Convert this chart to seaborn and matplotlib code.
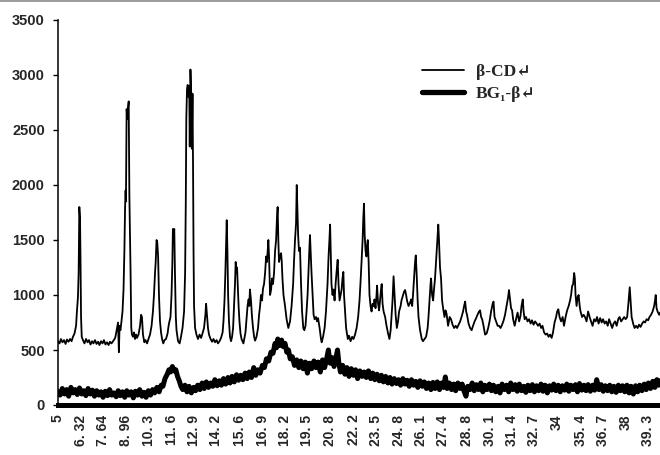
import matplotlib
matplotlib.use("Agg")
import matplotlib.pyplot as plt
import seaborn as sns
import pandas as pd
from matplotlib.lines import Line2D

# 2-theta (deg) / counts pairs
cd_scan = [
    (5.00, 580), (5.09, 560), (5.17, 600), (5.26, 570), (5.35, 590), (5.44, 555), (5.52, 595), (5.61, 575),
    (5.70, 600), (5.79, 580), (5.87, 620), (5.96, 650), (6.05, 720), (6.10, 850), (6.16, 980), (6.20, 1200),
    (6.24, 1800), (6.28, 1700), (6.31, 1300), (6.34, 800), (6.38, 620), (6.45, 590), (6.54, 560), (6.63, 600),
    (6.72, 570), (6.80, 590), (6.89, 550), (6.98, 580), (7.06, 560), (7.15, 590), (7.24, 555), (7.33, 575),
    (7.41, 545), (7.50, 580), (7.59, 560), (7.67, 590), (7.76, 550), (7.85, 570), (7.94, 545), (8.02, 575),
    (8.11, 560), (8.20, 580), (8.29, 600), (8.34, 620), (8.43, 700), (8.49, 750), (8.54, 480), (8.58, 720),
    (8.63, 680), (8.69, 760), (8.75, 850), (8.81, 1050), (8.86, 1400), (8.90, 1800), (8.93, 1950), (8.95, 1850),
    (8.99, 2690), (9.03, 2600), (9.07, 2700), (9.11, 2760), (9.15, 1900), (9.18, 1600), (9.22, 1200), (9.26, 700),
    (9.30, 640), (9.36, 620), (9.42, 660), (9.48, 600), (9.54, 640), (9.59, 610), (9.68, 640), (9.77, 720),
    (9.83, 820), (9.88, 800), (9.94, 640), (10.02, 570), (10.09, 590), (10.18, 560), (10.26, 600), (10.35, 640),
    (10.44, 720), (10.52, 850), (10.58, 1000), (10.64, 1200), (10.68, 1300), (10.73, 1500), (10.77, 1480),
    (10.82, 1350), (10.87, 1000), (10.93, 760), (10.99, 660), (11.05, 600), (11.12, 560), (11.19, 590),
    (11.28, 600), (11.37, 650), (11.43, 720), (11.48, 760), (11.54, 800), (11.60, 1000), (11.65, 1300),
    (11.68, 1600), (11.72, 1550), (11.76, 1600), (11.80, 1200), (11.85, 800), (11.89, 680), (11.98, 580),
    (12.07, 560), (12.15, 620), (12.24, 700), (12.33, 850), (12.39, 1200), (12.43, 1850), (12.46, 2600),
    (12.50, 2870), (12.54, 2910), (12.59, 2800), (12.63, 2900), (12.66, 2350), (12.70, 3050), (12.75, 2800),
    (12.78, 2330), (12.82, 2830), (12.85, 2200), (12.88, 1400), (12.91, 900), (12.97, 700), (13.05, 640),
    (13.14, 600), (13.23, 640), (13.32, 610), (13.40, 650), (13.49, 700), (13.57, 820), (13.61, 920),
    (13.66, 820), (13.72, 700), (13.78, 640), (13.87, 600), (13.96, 575), (14.04, 600), (14.13, 570),
    (14.22, 590), (14.30, 560), (14.39, 580), (14.48, 610), (14.57, 660), (14.62, 760), (14.68, 950),
    (14.73, 1200), (14.78, 1500), (14.81, 1680), (14.85, 1400), (14.89, 1000), (14.94, 760), (15.00, 620),
    (15.06, 580), (15.12, 620), (15.18, 700), (15.23, 880), (15.29, 1100), (15.33, 1300), (15.37, 1200),
    (15.41, 1250), (15.45, 1100), (15.50, 900), (15.55, 760), (15.61, 650), (15.67, 600), (15.78, 560),
    (15.85, 620), (15.90, 660), (15.96, 780), (16.02, 900), (16.08, 960), (16.12, 900), (16.16, 1050),
    (16.22, 950), (16.28, 800), (16.34, 700), (16.40, 620), (16.46, 585), (16.54, 620), (16.63, 700),
    (16.69, 820), (16.75, 900), (16.80, 1000), (16.86, 950), (16.92, 1060), (16.98, 1100), (17.04, 1200),
    (17.10, 1350), (17.15, 1300), (17.23, 1500), (17.27, 1350), (17.33, 1000), (17.39, 1050), (17.44, 1150),
    (17.50, 1100), (17.56, 1200), (17.62, 1400), (17.68, 1500), (17.73, 1700), (17.77, 1800), (17.81, 1500),
    (17.85, 1300), (17.91, 1350), (17.97, 1380), (18.01, 1300), (18.05, 1150), (18.11, 1000), (18.20, 900),
    (18.29, 780), (18.39, 700), (18.49, 760), (18.58, 900), (18.67, 1100), (18.72, 1300), (18.78, 1500),
    (18.84, 1650), (18.88, 2000), (18.93, 1700), (18.96, 1550), (19.01, 1400), (19.07, 1430), (19.13, 1100),
    (19.19, 850), (19.26, 700), (19.32, 680), (19.39, 720), (19.45, 850), (19.51, 1000), (19.57, 1250),
    (19.61, 1400), (19.65, 1545), (19.70, 1350), (19.74, 1200), (19.80, 1000), (19.86, 820), (19.92, 780),
    (20.00, 800), (20.06, 760), (20.12, 790), (20.21, 700), (20.29, 600), (20.33, 570), (20.41, 620),
    (20.50, 700), (20.58, 850), (20.67, 1100), (20.73, 1350), (20.78, 1500), (20.82, 1640), (20.86, 1350),
    (20.90, 1100), (20.96, 1000), (21.02, 1050), (21.08, 950), (21.14, 1100), (21.19, 1200), (21.26, 1320),
    (21.31, 1100), (21.37, 950), (21.43, 1000), (21.49, 1050), (21.54, 1150), (21.59, 1210), (21.63, 1000),
    (21.69, 850), (21.75, 700), (21.85, 600), (21.92, 630), (22.01, 580), (22.10, 620), (22.18, 600),
    (22.27, 640), (22.36, 700), (22.45, 800), (22.53, 950), (22.60, 1150), (22.66, 1350), (22.71, 1500),
    (22.75, 1700), (22.79, 1830), (22.83, 1550), (22.88, 1400), (22.93, 1350), (22.97, 1450), (23.01, 1500),
    (23.06, 1300), (23.11, 1000), (23.17, 900), (23.23, 850), (23.29, 920), (23.35, 900), (23.40, 960),
    (23.46, 880), (23.52, 1000), (23.55, 1085), (23.61, 920), (23.67, 860), (23.72, 950), (23.78, 1050),
    (23.82, 1100), (23.87, 920), (23.93, 850), (24.02, 800), (24.10, 720), (24.19, 650), (24.27, 600),
    (24.34, 680), (24.39, 800), (24.45, 950), (24.51, 1170), (24.57, 1000), (24.63, 820), (24.70, 700),
    (24.77, 760), (24.83, 850), (24.92, 900), (24.97, 950), (25.06, 1000), (25.12, 1030), (25.18, 1045),
    (25.24, 1000), (25.29, 950), (25.38, 900), (25.47, 930), (25.53, 960), (25.59, 900), (25.64, 1000),
    (25.70, 1150), (25.76, 1300), (25.80, 1360), (25.85, 1200), (25.91, 950), (25.96, 800), (26.05, 680),
    (26.15, 600), (26.22, 580), (26.31, 600), (26.40, 620), (26.49, 700), (26.54, 800), (26.60, 950),
    (26.66, 1100), (26.69, 1150), (26.75, 1000), (26.81, 950), (26.86, 1050), (26.92, 1150), (26.98, 1300),
    (27.04, 1450), (27.08, 1560), (27.11, 1640), (27.15, 1500), (27.21, 1250), (27.27, 1150), (27.33, 950),
    (27.39, 880), (27.47, 800), (27.53, 860), (27.59, 830), (27.68, 720), (27.77, 800), (27.85, 780),
    (27.94, 730), (28.03, 700), (28.12, 720), (28.20, 700), (28.29, 730), (28.38, 760), (28.46, 800),
    (28.55, 850), (28.61, 900), (28.67, 940), (28.73, 850), (28.78, 820), (28.87, 740), (28.96, 700),
    (29.05, 680), (29.13, 720), (29.22, 760), (29.31, 790), (29.39, 820), (29.48, 850), (29.54, 860),
    (29.60, 800), (29.66, 780), (29.74, 720), (29.83, 640), (29.92, 650), (30.01, 700), (30.09, 760),
    (30.18, 850), (30.27, 920), (30.32, 940), (30.38, 800), (30.47, 760), (30.56, 720), (30.64, 720),
    (30.73, 700), (30.82, 730), (30.91, 770), (30.99, 820), (31.08, 900), (31.17, 980), (31.22, 1045),
    (31.28, 960), (31.34, 880), (31.40, 860), (31.46, 780), (31.55, 720), (31.63, 780), (31.72, 840),
    (31.81, 760), (31.89, 810), (31.95, 900), (32.02, 960), (32.07, 850), (32.13, 780), (32.21, 800),
    (32.30, 760), (32.39, 780), (32.48, 740), (32.56, 770), (32.65, 730), (32.74, 760), (32.83, 740),
    (32.91, 720), (33.00, 740), (33.09, 700), (33.17, 720), (33.26, 660), (33.35, 640), (33.44, 650),
    (33.52, 620), (33.61, 640), (33.70, 610), (33.78, 660), (33.87, 750), (33.96, 800), (34.02, 850),
    (34.09, 870), (34.16, 800), (34.25, 760), (34.34, 800), (34.42, 720), (34.51, 800), (34.60, 860),
    (34.69, 900), (34.77, 950), (34.83, 1000), (34.89, 1080), (34.95, 1100), (35.01, 1200), (35.05, 1150),
    (35.09, 1000), (35.15, 900), (35.21, 980), (35.27, 1000), (35.33, 900), (35.38, 850), (35.47, 800),
    (35.56, 820), (35.64, 800), (35.73, 760), (35.82, 850), (35.91, 800), (35.99, 760), (36.08, 720),
    (36.17, 780), (36.26, 760), (36.34, 800), (36.43, 740), (36.52, 790), (36.61, 750), (36.69, 780),
    (36.78, 740), (36.87, 760), (36.96, 720), (37.04, 780), (37.13, 740), (37.22, 700), (37.30, 740),
    (37.39, 760), (37.48, 720), (37.57, 780), (37.65, 800), (37.74, 760), (37.83, 780), (37.92, 800),
    (38.00, 780), (38.09, 800), (38.15, 900), (38.20, 1000), (38.24, 1070), (38.29, 950), (38.35, 800),
    (38.44, 740), (38.52, 700), (38.61, 720), (38.70, 700), (38.78, 730), (38.87, 710), (38.96, 740),
    (39.05, 760), (39.13, 750), (39.22, 780), (39.31, 770), (39.39, 800), (39.48, 820), (39.57, 850),
    (39.66, 900), (39.72, 960), (39.75, 1000), (39.80, 880), (39.86, 850), (39.95, 820), (40.00, 840),
]

bg_scan = [
    (5.00, 120), (5.12, 90), (5.25, 150), (5.38, 100), (5.50, 140), (5.62, 80), (5.75, 160), (5.88, 110),
    (6.00, 140), (6.12, 95), (6.25, 155), (6.38, 100), (6.50, 130), (6.62, 85), (6.75, 150), (6.88, 100),
    (7.00, 135), (7.12, 80), (7.25, 130), (7.38, 90), (7.50, 120), (7.62, 70), (7.75, 125), (7.88, 85),
    (8.00, 140), (8.12, 90), (8.25, 110), (8.38, 75), (8.50, 130), (8.62, 85), (8.75, 120), (8.88, 70),
    (9.00, 130), (9.12, 90), (9.25, 120), (9.38, 65), (9.50, 125), (9.62, 90), (9.75, 140), (9.88, 80),
    (10.00, 115), (10.12, 70), (10.25, 130), (10.38, 90), (10.50, 140), (10.62, 110), (10.75, 160),
    (10.88, 120), (11.00, 180), (11.10, 170), (11.22, 240), (11.35, 280), (11.45, 320), (11.55, 300),
    (11.65, 350), (11.75, 310), (11.85, 320), (11.95, 260), (12.05, 220), (12.15, 170), (12.25, 140),
    (12.38, 180), (12.50, 120), (12.62, 170), (12.75, 110), (12.88, 160), (13.00, 130), (13.12, 180),
    (13.25, 140), (13.38, 200), (13.50, 150), (13.62, 210), (13.75, 160), (13.88, 200), (14.00, 170),
    (14.12, 230), (14.25, 175), (14.38, 220), (14.50, 180), (14.62, 240), (14.75, 190), (14.88, 250),
    (15.00, 200), (15.12, 260), (15.25, 210), (15.38, 275), (15.50, 225), (15.62, 270), (15.75, 230),
    (15.88, 290), (16.00, 240), (16.12, 300), (16.25, 250), (16.38, 340), (16.50, 270), (16.62, 320),
    (16.75, 290), (16.88, 360), (17.00, 340), (17.12, 420), (17.25, 400), (17.38, 480), (17.50, 470),
    (17.62, 560), (17.70, 520), (17.78, 600), (17.88, 540), (18.00, 590), (18.10, 530), (18.20, 560),
    (18.30, 480), (18.40, 500), (18.50, 420), (18.62, 440), (18.75, 360), (18.88, 410), (19.00, 340),
    (19.12, 400), (19.25, 330), (19.38, 390), (19.50, 290), (19.62, 380), (19.75, 330), (19.88, 400),
    (20.00, 340), (20.12, 390), (20.25, 300), (20.38, 410), (20.50, 340), (20.62, 420), (20.72, 500),
    (20.82, 380), (20.95, 430), (21.05, 350), (21.15, 420), (21.25, 500), (21.33, 380), (21.42, 300),
    (21.55, 360), (21.68, 280), (21.80, 340), (21.92, 260), (22.05, 330), (22.18, 270), (22.30, 320),
    (22.42, 240), (22.55, 310), (22.68, 260), (22.80, 300), (22.92, 250), (23.05, 310), (23.18, 240),
    (23.30, 290), (23.42, 230), (23.55, 280), (23.68, 220), (23.80, 270), (23.92, 210), (24.05, 260),
    (24.18, 200), (24.30, 250), (24.42, 190), (24.55, 240), (24.68, 195), (24.80, 230), (24.92, 180),
    (25.05, 240), (25.18, 190), (25.30, 225), (25.42, 170), (25.55, 230), (25.68, 180), (25.80, 215),
    (25.92, 160), (26.05, 220), (26.18, 170), (26.30, 210), (26.42, 150), (26.55, 200), (26.68, 140),
    (26.80, 205), (26.92, 150), (27.05, 210), (27.18, 140), (27.30, 200), (27.42, 160), (27.52, 255),
    (27.62, 150), (27.75, 200), (27.88, 140), (28.00, 190), (28.12, 130), (28.25, 200), (28.38, 150),
    (28.50, 190), (28.62, 120), (28.72, 80), (28.82, 170), (28.95, 140), (29.08, 200), (29.20, 130),
    (29.32, 185), (29.45, 140), (29.58, 200), (29.70, 120), (29.82, 180), (29.95, 140), (30.08, 190),
    (30.20, 130), (30.32, 180), (30.45, 120), (30.58, 170), (30.70, 110), (30.82, 190), (30.95, 140),
    (31.08, 180), (31.20, 120), (31.32, 200), (31.45, 140), (31.58, 185), (31.70, 125), (31.82, 190),
    (31.95, 130), (32.08, 170), (32.20, 115), (32.32, 180), (32.45, 130), (32.58, 185), (32.70, 120),
    (32.82, 175), (32.95, 130), (33.08, 190), (33.20, 125), (33.32, 180), (33.45, 110), (33.58, 175),
    (33.70, 135), (33.82, 190), (33.95, 130), (34.08, 180), (34.20, 120), (34.32, 175), (34.45, 135),
    (34.58, 190), (34.70, 125), (34.82, 180), (34.95, 140), (35.08, 185), (35.20, 120), (35.32, 195),
    (35.45, 135), (35.58, 180), (35.70, 130), (35.82, 185), (35.95, 125), (36.08, 180), (36.20, 135),
    (36.32, 230), (36.45, 140), (36.58, 185), (36.70, 125), (36.82, 175), (36.95, 130), (37.08, 180),
    (37.20, 120), (37.32, 170), (37.45, 115), (37.58, 180), (37.70, 130), (37.82, 175), (37.95, 120),
    (38.08, 180), (38.20, 110), (38.32, 170), (38.45, 100), (38.58, 175), (38.70, 120), (38.82, 180),
    (38.95, 130), (39.08, 190), (39.20, 140), (39.32, 200), (39.45, 150), (39.58, 215), (39.70, 160),
    (39.82, 230), (39.92, 180), (40.00, 220),
]

tick_pos = [5, 6.32, 7.64, 8.96, 10.3, 11.6, 12.9, 14.2, 15.6, 16.9, 18.2, 19.5, 20.8, 22.2,
            23.5, 24.8, 26.1, 27.4, 28.8, 30.1, 31.4, 32.7, 34, 35.4, 36.7, 38, 39.3]
tick_text = ["5", "6. 32", "7. 64", "8. 96", "10. 3", "11. 6", "12. 9", "14. 2", "15. 6",
             "16. 9", "18. 2", "19. 5", "20. 8", "22. 2", "23. 5", "24. 8", "26. 1", "27. 4",
             "28. 8", "30. 1", "31. 4", "32. 7", "34", "35. 4", "36. 7", "38", "39. 3"]
y_ticks = [0, 500, 1000, 1500, 2000, 2500, 3000, 3500]

cd = pd.DataFrame(cd_scan, columns=["theta", "counts"])
bg = pd.DataFrame(bg_scan, columns=["theta", "counts"])

sns.set_style("white")
plt.rcParams["font.family"] = ["Liberation Sans", "DejaVu Sans"]

fig = plt.figure(figsize=(6.6, 4.55), dpi=100)
ax = fig.add_axes([58 / 660, 1 - 405 / 455, 602 / 660, 385 / 455])

sns.lineplot(data=cd, x="theta", y="counts", ax=ax, color="black", linewidth=1.3,
             estimator=None, sort=False, label="β-CD↵")
sns.lineplot(data=bg, x="theta", y="counts", ax=ax, color="black", linewidth=3.6,
             estimator=None, sort=False, label="BG₁-β↵")

ax.set_xlim(5, 40)
ax.set_ylim(0, 3500)
ax.set_xlabel("")
ax.set_ylabel("")
ax.set_yticks(y_ticks)
ax.set_xticks(tick_pos)
ax.set_xticklabels(tick_text, rotation=90, fontsize=10, fontweight="bold")
ax.set_yticklabels([str(v) for v in y_ticks], fontsize=10.5, fontweight="bold")
ax.tick_params(axis="y", direction="out", length=3.5, width=1, color="black", pad=6, left=True)
ax.tick_params(axis="x", length=0, pad=7)

for side in ["top", "right"]:
    ax.spines[side].set_visible(False)
ax.spines["left"].set_color("black")
ax.spines["left"].set_linewidth(1.1)
ax.spines["bottom"].set_color("black")
ax.spines["bottom"].set_linewidth(3.6)

leg = ax.legend(loc="upper left", bbox_to_anchor=(422 / 660, 1 - 64 / 455),
                bbox_transform=fig.transFigure, frameon=False, borderpad=0,
                borderaxespad=0, handlelength=2.4, handletextpad=0.7, labelspacing=0.35,
                prop={"family": ["Liberation Serif", "DejaVu Serif"], "weight": "bold", "size": 12.5})
leg.get_lines()[1].set_linewidth(3.8)

# thin grey border line at the top edge of the picture
fig.add_artist(Line2D([0, 1], [0.998, 0.998], color="#8a8a8a", linewidth=1.2,
                      transform=fig.transFigure))

fig.savefig("out.png", dpi=100)
